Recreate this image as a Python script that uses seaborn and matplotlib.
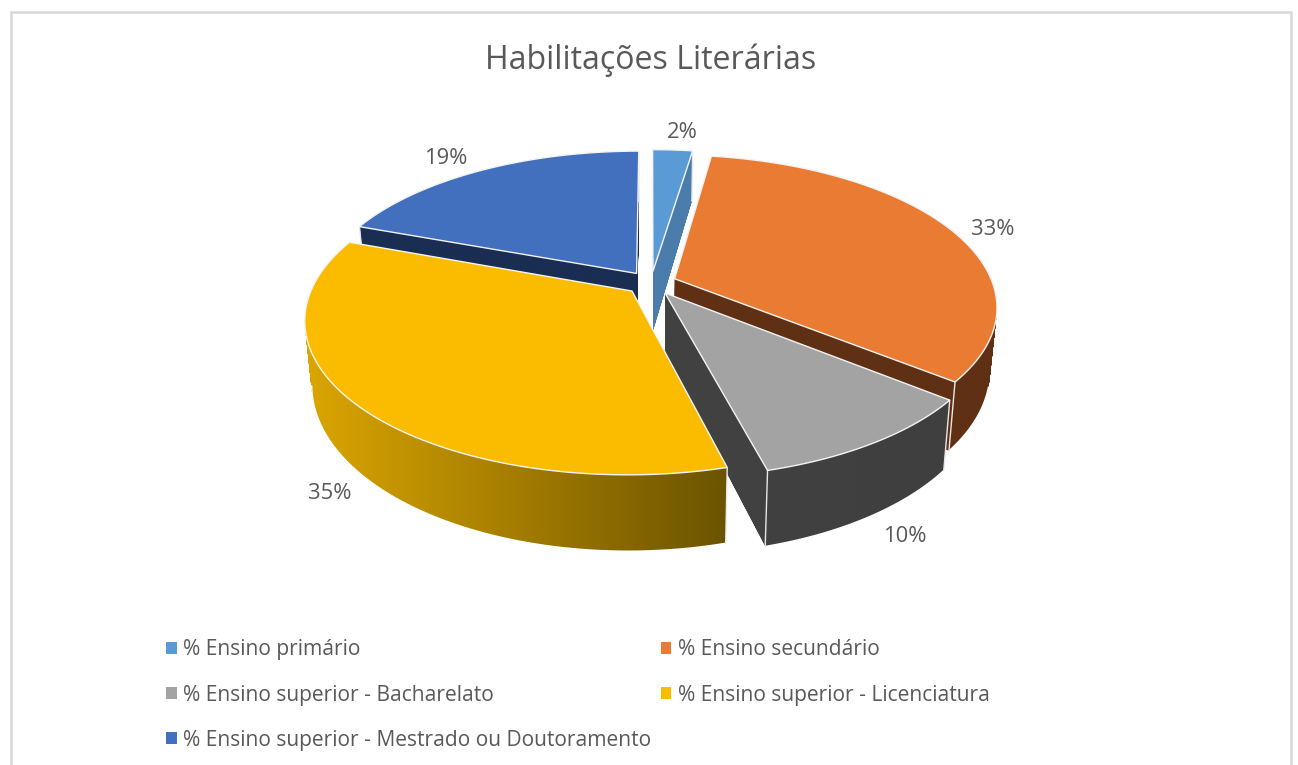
import numpy as np
import matplotlib
matplotlib.use("Agg")
import matplotlib.pyplot as plt
import seaborn as sns
from matplotlib.colors import LinearSegmentedColormap
from matplotlib.patches import Patch, PathPatch, Polygon, Rectangle
from matplotlib.path import Path

title = "Habilitações Literárias"
categories = [
    "% Ensino primário",
    "% Ensino secundário",
    "% Ensino superior - Bacharelato",
    "% Ensino superior - Licenciatura",
    "% Ensino superior - Mestrado ou Doutoramento",
]
values = [2.4, 33.4, 10.1, 34.7, 19.4]

sns.set_theme(style="white")
plt.rcParams["font.family"] = ["Open Sans", "DejaVu Sans"]

top_colors = ["#5b9bd5", "#ea7b33", "#a3a3a3", "#fbbc00", "#4270bf"]
wall_left = ["#4a7dab", "#5f3013", "#424242", "#dca600", "#1a2d52"]
wall_right = ["#4a7dab", "#5f3013", "#3f3f3f", "#6b5300", "#1a2d52"]
text_gray = "#595959"

# perspective of the pie plane, in pixels of the picture
cx, cy = 651, 283
gx, gy, tilt = 318, 147.5, 0.18
drop, stretch, shrink = 61, 0.08, 0.02


def project(x, y):
    w = 1 + tilt * y
    return cx + gx * x / w, cy - gy * y / w


def lower(px, py, t):
    return cx + (px - cx) * (1 - shrink * t), cy + (py - cy) * (1 + stretch * t) + drop * t


fig = plt.figure(figsize=(12.98, 7.65), dpi=100)
ax = fig.add_axes([0, 0, 1, 1])
ax.set_xlim(0, 1298)
ax.set_ylim(765, 0)
ax.set_axis_off()

# the pie itself gives the slice angles and the exploded centres
helper = fig.add_axes([0, 0, 0.1, 0.1])
wedges, _ = helper.pie(values, explode=[0.08] * 5, startangle=90, counterclock=False, radius=1)
helper.set_visible(False)

ax.add_patch(Rectangle((10.5, 12), 1280, 800, fc="white", ec="#d9d9d9", lw=1.8))

# back to front
order = [0, 4, 1, 2, 3]
for z, i in enumerate(order):
    w = wedges[i]
    ang = np.radians(np.linspace(w.theta1, w.theta2, 120))
    ox, oy = w.center
    xs = np.r_[ox, ox + w.r * np.cos(ang)]
    ys = np.r_[oy, oy + w.r * np.sin(ang)]
    px, py = project(xs, ys)
    base = 10 + z * 5

    # side walls: sweep the top face down and paint a gradient through it
    polys = []
    for t in np.linspace(0, 1, 90):
        lx, ly = lower(px, py, t)
        polys.append(Path(np.c_[np.r_[lx, lx[0]], np.r_[ly, ly[0]]], closed=True))
    sweep = Path.make_compound_path(*polys)
    ext = sweep.get_extents()
    cmap = LinearSegmentedColormap.from_list("wall", [wall_left[i], wall_right[i]])
    img = ax.imshow(
        np.linspace(0, 1, 256)[None, :],
        cmap=cmap,
        extent=[ext.x0, ext.x1, ext.y1, ext.y0],
        aspect="auto",
        zorder=base,
    )
    img.set_clip_path(PathPatch(sweep, transform=ax.transData))

    # soften the clipped bottom rim, front part only
    front = ys[1:] < -0.25
    if front.any():
        bx, by = lower(px[1:][front], py[1:][front], 1)
        ax.plot(bx, by, color="white", lw=1, zorder=base + 1)

    # white corner lines of the outer wall
    for k in (1, -1):
        bx, by = lower(px[k], py[k], 1)
        ax.plot([px[k], bx], [py[k], by], color="#e8e8e8", lw=1, zorder=base + 1)

    ax.add_patch(Polygon(np.c_[px, py], closed=True, fc=top_colors[i], ec="#f4f4f4", lw=1, zorder=base + 2))

ax.set_xlim(0, 1298)
ax.set_ylim(765, 0)

ax.text(651, 60, title, ha="center", va="center", fontsize=23.1, color=text_gray)

label_x = [682, 993, 905, 330, 446]
label_y = [132, 229, 536, 493, 158]
for v, lx, ly in zip(values, label_x, label_y):
    ax.text(lx, ly, f"{v:.0f}%", ha="center", va="center", fontsize=15.8, color=text_gray)

# legend fills by column, so hand it the rows in that order
handles = [Patch(fc=c, ec="none", label=n) for c, n in zip(top_colors, categories)]
leg_order = [0, 2, 4, 1, 3]
fig.legend(
    handles=[handles[i] for i in leg_order],
    ncol=2,
    loc="upper left",
    bbox_to_anchor=(158 / 1298, 1 - 631 / 765),
    frameon=False,
    fontsize=15.1,
    labelcolor=text_gray,
    handlelength=0.5,
    handleheight=0.5,
    handletextpad=0.3,
    columnspacing=0.45,
    labelspacing=1.15,
    borderpad=0.4,
    borderaxespad=0,
)

fig.savefig("out.png", dpi=100)
